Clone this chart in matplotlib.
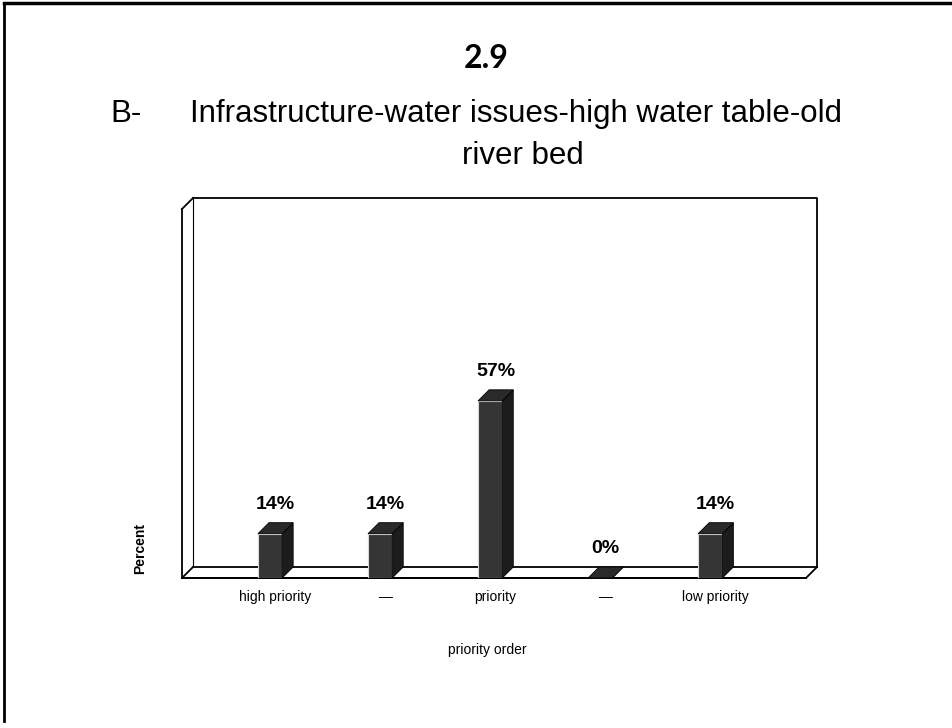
import matplotlib.pyplot as plt
from matplotlib.patches import Polygon

plt.rcParams['font.family'] = ['Liberation Sans', 'DejaVu Sans']

# data (7 answers: 1, 1, 4, 0, 1)
categories = ['high priority', '—', 'priority', '—', 'low priority']
percent = [14.29, 14.29, 57.14, 0.0, 14.29]
value_labels = ['14%', '14%', '57%', '0%', '14%']

fig = plt.figure(figsize=(9.52, 7.28), dpi=100)

# frame of the scanned slide
fig.add_artist(plt.Line2D([0.004, 0.004], [0.01, 0.996], color='black', lw=2, transform=fig.transFigure))
fig.add_artist(plt.Line2D([0.004, 1.0], [0.996, 0.996], color='black', lw=2.5, transform=fig.transFigure))

# titles
fig.text(486 / 952, 1 - 68 / 728, '2.9', fontsize=23, fontweight='bold', family=['Lato', 'DejaVu Sans'],
         ha='center', va='baseline')
fig.text(110 / 952, 1 - 122 / 728, 'B-', fontsize=22.5, ha='left', va='baseline')
fig.text(190 / 952, 1 - 122 / 728, 'Infrastructure-water issues-high water table-old', fontsize=22.5,
         ha='left', va='baseline')
fig.text(523 / 952, 1 - 164 / 728, 'river bed', fontsize=22.5, ha='center', va='baseline')

# plot area = front plane of the 3d box
ax = fig.add_axes([182 / 952, 1 - 578 / 728, 624 / 952, 369 / 728])
xs = list(range(len(categories)))
ax.set_xlim(-0.8, 4.87)
ax.set_ylim(0, 119)

w = 0.22
dx = 11 / 110          # depth in x data units
dy = 11 / 3.1          # depth in y data units

for s in ['top', 'right']:
    ax.spines[s].set_visible(False)
ax.spines['left'].set_linewidth(1.3)
ax.spines['bottom'].set_linewidth(1.3)

x0, x1 = ax.get_xlim()
y0, y1 = ax.get_ylim()
box = dict(color='black', lw=1.3, clip_on=False, zorder=1)
# back wall
ax.plot([x0 + dx, x1 + dx, x1 + dx], [y1 + dy, y1 + dy, y0 + dy], **box)
ax.plot([x0 + dx, x0 + dx], [y0 + dy, y1 + dy], color='black', lw=0.8, clip_on=False, zorder=1)
# floor back edge and corners
ax.plot([x0 + dx, x1 + dx], [y0 + dy, y0 + dy], **box)
ax.plot([x0, x0 + dx], [y0, y0 + dy], **box)
ax.plot([x1, x1 + dx], [y0, y0 + dy], **box)
ax.plot([x0, x1], [y0, y0], **box)
# left wall top
ax.plot([x0, x0 + dx], [y1, y1 + dy], **box)

# bars: front face
ax.bar(xs, percent, width=w, color='#353535', edgecolor='#d8d8d8', linewidth=0.8, zorder=3)
for x, v in zip(xs, percent):
    xl, xr = x - w / 2, x + w / 2
    side = Polygon([(xr, 0), (xr + dx, dy), (xr + dx, v + dy), (xr, v)], closed=True,
                   facecolor='#1c1c1c', edgecolor='black', lw=0.6, zorder=3)
    top = Polygon([(xl, v), (xl + dx, v + dy), (xr + dx, v + dy), (xr, v)], closed=True,
                  facecolor='#2a2a2a', edgecolor='black', lw=0.6, zorder=3)
    ax.add_patch(side)
    ax.add_patch(top)

for x, v, lab in zip(xs, percent, value_labels):
    ax.annotate(lab, xy=(x + dx / 2, v), xytext=(0, 21), textcoords='offset points',
                ha='center', va='center', fontsize=14, fontweight='bold')

ax.set_xticks([x + dx / 2 for x in xs])
ax.set_xticklabels(categories, fontsize=10)
ax.tick_params(axis='x', length=0, pad=9)
ax.set_yticks([])

fig.text(140 / 952, 1 - 548 / 728, 'Percent', rotation=90, fontsize=10, fontweight='bold',
         ha='center', va='center')
fig.text(487 / 952, 1 - 650 / 728, 'priority order', fontsize=10, ha='center', va='center')

fig.savefig('out.png', dpi=100, facecolor='white')
